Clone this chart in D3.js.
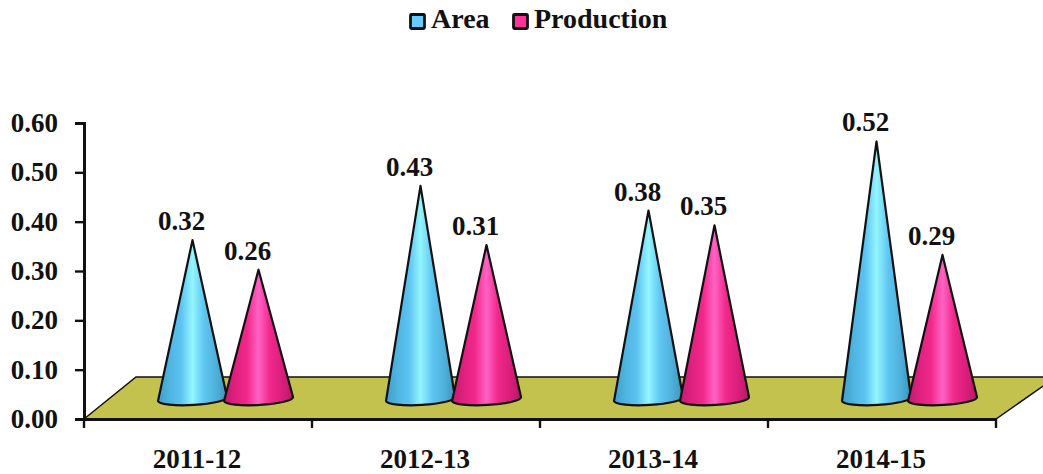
<!DOCTYPE html>
<html>
<head>
<meta charset="utf-8">
<script src="https://cdn.jsdelivr.net/npm/d3@7"></script>
<style>
  html, body { margin: 0; padding: 0; background: #fff; }
  svg { display: block; }
  text { font-family: "Liberation Serif", serif; font-weight: bold; fill: #111; }
</style>
</head>
<body>
<script>
const categories = ["2011-12", "2012-13", "2013-14", "2014-15"];
const seriesNames = ["Area", "Production"];
const areaValues = [0.32, 0.43, 0.38, 0.52];
const productionValues = [0.26, 0.31, 0.35, 0.29];
const yTicks = [0, 0.1, 0.2, 0.3, 0.4, 0.5, 0.6];

const width = 1043, height = 474;
const depthX = 52, depthY = 42;

const svg = d3.select("body").append("svg")
  .attr("width", width).attr("height", height);

const x = d3.scaleBand().domain(categories).range([84, 996]).padding(0);
const series = d3.scaleBand().domain(seriesNames).range([-38.5, 93.5]).padding(0);
const y = d3.scaleLinear().domain([0, 0.6]).range([419, 123]);

// Horizontal shading that gives each cone its rounded look
const defs = svg.append("defs");
const shades = {
  Area: ["#3f9fc8", "#4fb4e0", "#5cc2f0", "#93f6ff", "#5fc6f2", "#4fb2dc", "#3a94bc"],
  Production: ["#c01a6c", "#e0207f", "#f0288a", "#ff62c4", "#f0288a", "#dc1f7c", "#b81668"]
};
seriesNames.forEach(name => {
  const g = defs.append("linearGradient").attr("id", "cone-" + name);
  shades[name].forEach((c, i, all) => g.append("stop")
    .attr("offset", i / (all.length - 1)).attr("stop-color", c));
});

// Floor of the 3-D plot, running off the right edge of the page
const y0 = y(0);
svg.append("path")
  .attr("d", `M${x.range()[0]},${y0} L${x.range()[0] + depthX},${y0 - depthY}
              L${x.range()[1] + depthX + 8},${y0 - depthY} L${x.range()[1]},${y0} Z`)
  .attr("fill", "#c4c24e").attr("stroke", "#111").attr("stroke-width", 1.5);

// Axes
const yAxis = d3.axisLeft(y).tickValues(yTicks).tickFormat(d3.format(".2f")).tickSize(9).tickPadding(17);
const yG = svg.append("g").attr("transform", "translate(84,0)").call(yAxis);
yG.select(".domain").attr("stroke", "#111").attr("stroke-width", 3);
yG.selectAll(".tick line").attr("stroke", "#111").attr("stroke-width", 2.4);
yG.selectAll("text").attr("font-size", 27).style("font-family", null);

const xAxis = d3.axisBottom(x).tickValues([]).tickSize(0);
const xG = svg.append("g").attr("transform", `translate(0,${y0})`).call(xAxis);
xG.select(".domain").attr("stroke", "#111").attr("stroke-width", 3);
xG.selectAll(".sep").data([...categories.map(c => x(c)), x.range()[1]]).enter().append("line")
  .attr("class", "sep").attr("x1", d => d).attr("x2", d => d)
  .attr("y1", 0).attr("y2", 9).attr("stroke", "#111").attr("stroke-width", 2.4);
xG.selectAll(".cat").data(categories).enter().append("text")
  .attr("class", "cat").attr("text-anchor", "middle")
  .attr("x", d => x(d) + x.bandwidth() / 2 - 1).attr("y", 49)
  .attr("font-size", 27).text(d => d);

// Cones: the apex sits at the value height, lifted by half the floor depth
const baseRx = 34.5, baseRy = 6, tilt = -3, lift = depthY / 2;
const seriesData = [
  { name: "Area", values: areaValues },
  { name: "Production", values: productionValues }
];
const coneX = (name, i) => x(categories[i]) + x.bandwidth() / 2 + series(name) + series.bandwidth() / 2;
seriesData.forEach(s => {
  const g = svg.append("g").attr("class", "series-" + s.name);
  g.selectAll("path").data(s.values).enter().append("path")
    .attr("d", (v, i) => {
      const cx = coneX(s.name, i);
      const baseY = y0 - lift;
      const apex = y(v) - lift;
      return `M${cx},${apex}
              L${cx - baseRx},${baseY + 3}
              A${baseRx},${baseRy} ${tilt} 0 0 ${cx + baseRx},${baseY - 1}
              Z`;
    })
    .attr("fill", `url(#cone-${s.name})`)
    .attr("stroke", "#111").attr("stroke-width", 2.2).attr("stroke-linejoin", "round");
  g.selectAll("text").data(s.values).enter().append("text")
    .attr("text-anchor", "middle")
    .attr("x", (v, i) => coneX(s.name, i) - 11)
    .attr("y", v => y(v) - lift - 10)
    .attr("font-size", 27).text(v => d3.format(".2f")(v));
});

// Legend
const legendItems = [
  { name: "Area", swatch: "#66ccff", sx: 410.5, tx: 431 },
  { name: "Production", swatch: "#ff3399", sx: 513.5, tx: 534 }
];
const legend = svg.append("g");
legendItems.forEach(item => {
  legend.append("rect").attr("x", item.sx).attr("y", 14.5).attr("width", 14).attr("height", 14)
    .attr("fill", item.swatch).attr("stroke", "#111").attr("stroke-width", 2.8).attr("rx", 1);
  legend.append("text").attr("x", item.tx).attr("y", 28).attr("font-size", 28).text(item.name);
});
</script>
</body>
</html>
